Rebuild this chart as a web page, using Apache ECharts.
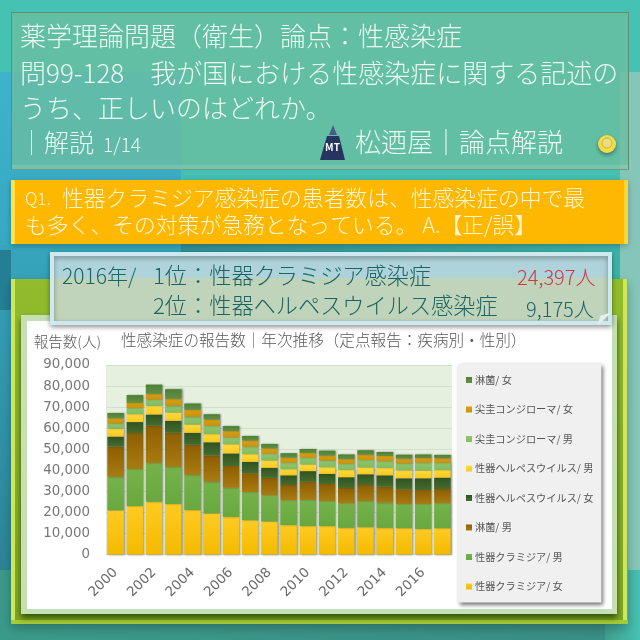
<!DOCTYPE html>
<html><head><meta charset="utf-8">
<style>html,body{margin:0;padding:0;background:#45C2B2}#c{width:640px;height:640px}</style>
<script src="https://cdn.jsdelivr.net/npm/echarts@6/dist/echarts.min.js"></script>
</head><body><div id="c"></div>
<script>
const years = ['2000','2001','2002','2003','2004','2005','2006','2007','2008','2009','2010','2011','2012','2013','2014','2015','2016','2017'];
const chlamydiaF = [21000,23000,25100,24000,21100,19500,17900,16300,15700,14000,13500,13500,12700,13000,12700,12500,12200,12500];
const chlamydiaM = [15900,17600,18400,17600,16700,15100,13800,13300,12400,11700,12400,11900,11600,12400,11900,11400,11700,11900];
const gonorrheaM = [14300,17100,17600,16200,14300,12400,10300,9000,8300,7300,8600,8100,7300,7600,7600,7100,6700,6700];
const herpesF = [4800,5200,5400,5700,5700,6300,6000,5400,4800,4600,5100,4800,5100,5100,5400,5200,5600,5400];
const herpesM = [3800,3800,4100,4000,4000,4000,4400,3700,3500,3000,3200,3200,3500,3300,3500,3800,3700,3700];
const condylomaM = [2500,2900,3000,3200,3700,3800,3300,3500,3200,3000,3200,3200,2900,3500,3300,3300,3700,3300];
const condylomaF = [2400,2400,2700,3200,3200,3000,2900,2900,2500,2400,2200,2200,2200,2400,2400,2200,2200,2200];
const gonorrheaF = [2500,3700,4400,4600,3000,2500,2400,2200,2100,2100,1900,2400,2200,2200,1900,1900,1700,1600];
const seriesNames = ['性器クラミジア/ 女','性器クラミジア/ 男','淋菌/ 男','性器ヘルペスウイルス/ 女','性器ヘルペスウイルス/ 男','尖圭コンジローマ/ 男','尖圭コンジローマ/ 女','淋菌/ 女'];
const seriesValues = [chlamydiaF,chlamydiaM,gonorrheaM,herpesF,herpesM,condylomaM,condylomaF,gonorrheaF];
const seriesColors = [['#FFCB22','#F4BA00'],['#75B34A','#68A83F'],['#8E5E00','#A87B12'],['#2F5520','#466B2E'],['#FFDC3C','#F8C820'],['#8FC66C','#82BC60'],['#DDA010','#C8920A'],['#4D8034','#629042']];
const titleLines = ['薬学理論問題（衛生）論点：性感染症','問99-128　我が国における性感染症に関する記述の','うち、正しいのはどれか。'];
const font = '"Noto Sans CJK JP","Noto Sans",sans-serif';

function vg(a,b){return {type:'linear',x:0,y:0,x2:0,y2:1,colorStops:[{offset:0,color:a},{offset:1,color:b}]};}
function hg(a,b){return {type:'linear',x:0,y:0,x2:1,y2:0,colorStops:[{offset:0,color:a},{offset:1,color:b}]};}
function rect(x,y,w,h,fill,extra){return {type:'rect',shape:{x,y,width:w,height:h},style:Object.assign({fill},extra||{}),silent:true};}
function txt(x,y,t,size,color,extra){return {type:'text',x,y,silent:true,style:Object.assign({text:t,font:'300 '+size+'px '+font,fill:color,verticalAlign:'middle',align:'left'},extra||{})};}

const light='#EAF8F0', dark='#1E6461';
const calloutFill={type:'linear',x:0,y:0,x2:0,y2:1,colorStops:[{offset:0,color:'#AFD3DA'},{offset:0.36,color:'#AFD3DA'},{offset:0.36,color:'#BFD4BA'},{offset:1,color:'#BFD4BA'}]};
const graphicEls=[
  rect(0,0,640,640,'#45C2B2'),
  rect(0,72,181,178,vg('#3FB2CC','#36A9C2')),
  rect(0,245,181,325,vg('#36A6BD','#2C8499')),
  rect(181,170,439,74,'#45C0B0'),
  rect(181,244,439,326,hg('#338F98','#3DB3A8')),
  rect(620,72,20,498,'#86C6B8'),
  rect(0,570,605,70,hg('#3A9A8A','#3A8E84')),
  rect(605,570,35,70,hg('#3F9D8E','#45C2B2')),
  rect(0,250,11,60,'#247F95'),
  // top panel
  rect(11.5,12.5,617,157,'rgba(108,190,160,0.78)',{stroke:'#5E8F6E',lineWidth:1}),
  rect(12,165,616,5,'rgba(255,255,255,0.12)'),
  txt(20,36,titleLines[0],26,light),
  txt(20,73,titleLines[1],26,light),
  txt(20,108,titleLines[2],26,light),
  txt(19,142,'｜解説',25,light),
  txt(103,145,'1/14',19,light),
  {type:'polygon',silent:true,shape:{points:[[327,136],[339,136],[345,160],[320,160]]},style:{fill:'#25355F'}},
  {type:'polygon',silent:true,shape:{points:[[333,125],[337,135],[329,135]]},style:{fill:'#4A5C84'}},
  txt(332.5,147,'MT',10,'#FFFFFF',{align:'center',font:'700 10px '+font}),
  txt(355,142,'松迺屋｜論点解説',26,light),
  {type:'circle',silent:true,shape:{cx:607,cy:144,r:9},style:{fill:'#F3DC4C',shadowBlur:4,shadowColor:'rgba(0,0,0,0.4)',shadowOffsetY:2}},
  {type:'circle',silent:true,shape:{cx:607,cy:143,r:5},style:{fill:'#E9DE82',stroke:'#C9B93C',lineWidth:1}},
  // yellow panel
  rect(11,180,617,64,'#FFB800',{shadowBlur:6,shadowColor:'rgba(0,0,0,0.25)',shadowOffsetY:2}),
  rect(11,180,4,64,'#FFE14D'),
  rect(624,180,4,64,'#FFD633'),
  txt(25,199,'Q1.',17,'#FFF5D6'),
  txt(62,198,'性器クラミジア感染症の患者数は、性感染症の中で最',21.8,'#FFF5D6'),
  txt(25,225,'も多く、その対策が急務となっている。 A.【正/誤】',21.8,'#FFF5D6'),
  // green frame
  rect(11,279,617,345,vg('#92BC2C','#7FA625'),{shadowBlur:10,shadowColor:'rgba(0,0,0,0.25)',shadowOffsetY:4}),
  rect(11,279,4,345,'#CCE85A'),
  rect(623,279,4,345,'#CCE85A'),
  rect(11,620,617,4,'#A5CC34'),
  rect(21,315,596,299,'#C5E0B4',{shadowBlur:6,shadowColor:'rgba(30,60,0,0.8)',shadowOffsetY:4}),
  rect(27,321,585,288,'#FFFFFF'),
  // callout
  rect(52,254,558,69,calloutFill,{stroke:'#CDE8EE',lineWidth:4,shadowBlur:5,shadowColor:'rgba(0,0,0,0.35)',shadowOffsetY:2}),
  {type:'polygon',silent:true,shape:{points:[[598,325],[612,312],[600,316]]},style:{fill:'#E4F1F4'}},
  txt(62,276,'2016年/',21,dark),
  txt(153,276,'1位：性器クラミジア感染症',22.2,dark),
  txt(517,277,'24,397人',20,'#C9384A'),
  txt(153,306,'2位：性器ヘルペスウイルス感染症',22.2,dark),
  txt(526,309,'9,175人',20,dark)
];

const chart=echarts.init(document.getElementById('c'),null,{renderer:'canvas'});
chart.setOption({
  animation:false,
  textStyle:{fontFamily:font},
  graphic:{elements:graphicEls.map(e=>Object.assign(e,{z:-10}))},
  title:{text:'性感染症の報告数｜年次推移（定点報告：疾病別・性別）',left:121,top:332,padding:0,
    textStyle:{fontFamily:font,fontSize:15.6,fontWeight:300,color:'#595959'}},
  legend:{orient:'vertical',left:458,top:364,width:145,padding:[10,8,10,8],itemGap:17.5,itemWidth:6,itemHeight:6,
    icon:'rect',backgroundColor:'#F0F0F0',shadowBlur:4,shadowColor:'rgba(0,0,0,0.55)',shadowOffsetX:2,shadowOffsetY:2,
    data:seriesNames.slice().reverse(),
    textStyle:{fontFamily:font,fontSize:10.2,color:'#555555',lineHeight:12,padding:[0,0,0,-2]}},
  grid:{left:106,right:188,top:365,bottom:85.5,show:true,backgroundColor:'#E5F0DE',borderWidth:0},
  xAxis:{type:'category',data:years,
    axisTick:{show:false},axisLine:{show:false},
    axisLabel:{interval:1,rotate:45,margin:16,fontFamily:'"DejaVu Sans",sans-serif',fontSize:13.5,color:'#6A6A6A'}},
  yAxis:{type:'value',min:0,max:90000,interval:10000,
    name:'報告数(人)',nameLocation:'end',nameGap:16,
    nameTextStyle:{fontFamily:font,fontSize:14.5,fontWeight:300,color:'#595959',align:'right',padding:[0,5,0,0]},
    axisLine:{show:false},axisTick:{show:false},
    splitLine:{show:true,lineStyle:{color:'#D2DFCC',width:1}},
    axisLabel:{margin:16,fontFamily:'"DejaVu Sans",sans-serif',fontSize:13.4,color:'#777777',
      formatter:v=>v.toLocaleString('en-US')}},
  series:seriesNames.map((n,i)=>({
    name:n,type:'bar',stack:'total',barWidth:16.5,data:seriesValues[i],
    itemStyle:{color:vg(seriesColors[i][0],seriesColors[i][1]),shadowBlur:2,shadowColor:'rgba(60,60,60,0.55)',shadowOffsetX:1}
  }))
});
</script></body></html>
